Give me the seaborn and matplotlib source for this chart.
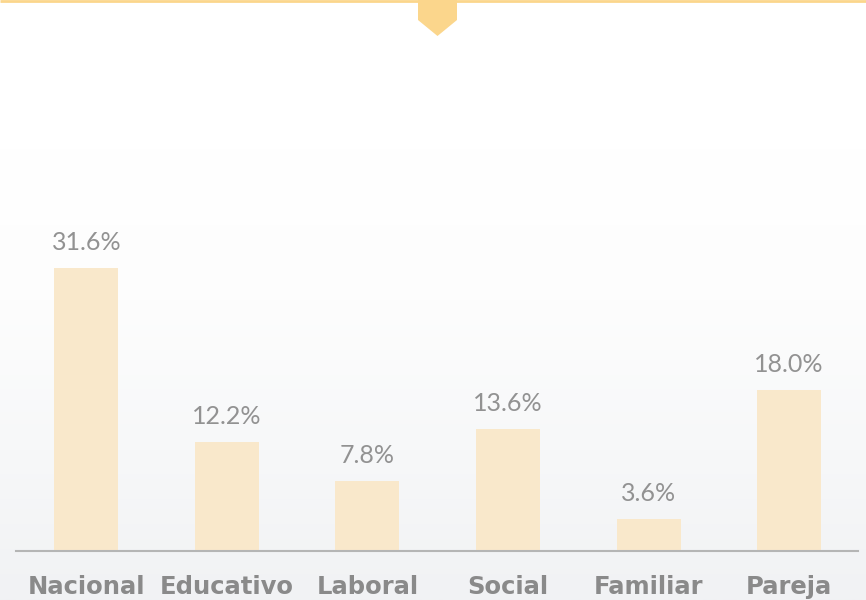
import numpy as np
import pandas as pd
import matplotlib.pyplot as plt
from matplotlib.patches import Polygon
import seaborn as sns

# ==========================================
# Data
# ==========================================

categories = ["Nacional", "Educativo", "Laboral", "Social", "Familiar", "Pareja"]
values = [31.6, 12.2, 7.8, 13.6, 3.6, 18.0]
value_labels = ["31.6%", "12.2%", "7.8%", "13.6%", "3.6%", "18.0%"]

df = pd.DataFrame({"categoria": categories, "porcentaje": values})

# ==========================================
# Style
# ==========================================

sns.set_theme(style="white")
plt.rcParams["font.family"] = ["Lato", "DejaVu Sans"]

BAR_COLOR = "#F9E8CB"
GOLD = "#FBD68C"
TEXT_GRAY = "#8A8A8A"

fig = plt.figure(figsize=(8.66, 6), dpi=100)

# soft background gradient (white -> light gray)
bg = fig.add_axes([0, 0, 1, 1], zorder=0)
grad = np.linspace(0, 1, 256).reshape(-1, 1)
bg_cmap = sns.blend_palette(["#FFFFFF", "#FFFFFF", "#FDFDFD", "#F7F8F9", "#F1F2F4"], as_cmap=True)
bg.imshow(grad, aspect="auto", cmap=bg_cmap, extent=[0, 1, 0, 1], origin="upper")
bg.set_xlim(0, 1)
bg.set_ylim(0, 1)
bg.axis("off")

# top gold rule with pointer
bg.plot([0, 1], [0.998, 0.998], color=GOLD, lw=2, solid_capstyle="butt")
bg.add_patch(Polygon([[418 / 866, 1], [457 / 866, 1], [457 / 866, 1 - 20 / 600],
                      [437.5 / 866, 1 - 36 / 600], [418 / 866, 1 - 20 / 600]],
                     closed=True, facecolor=GOLD, edgecolor="none"))

# ==========================================
# Bar chart
# ==========================================

ax = fig.add_axes([16 / 866, 49 / 600, 842 / 866, 551 / 600], zorder=1)
ax.patch.set_alpha(0)

sns.barplot(data=df, x="categoria", y="porcentaje", color=BAR_COLOR,
            width=0.455, saturation=1, linewidth=0, ax=ax)

ax.set_xlim(-0.5, 5.49)
ax.set_ylim(0, 61.5)

for i, (v, lab) in enumerate(zip(values, value_labels)):
    ax.annotate(lab, (i, v), xytext=(0, 14), textcoords="offset pixels",
                ha="center", va="bottom", fontsize=18, color="#929292")

for s in ["top", "right", "left"]:
    ax.spines[s].set_visible(False)
ax.spines["bottom"].set_color("#B5B5B5")
ax.spines["bottom"].set_linewidth(1.5)

ax.set_yticks([])
ax.set_xlabel("")
ax.set_ylabel("")
ax.tick_params(axis="x", length=0, pad=17)
ax.set_xticks(range(len(categories)))
ax.set_xticklabels(categories, fontsize=17.5, fontweight="bold", color=TEXT_GRAY,
                   family=["DejaVu Sans"])

fig.savefig("out.png", dpi=100)
plt.close(fig)
